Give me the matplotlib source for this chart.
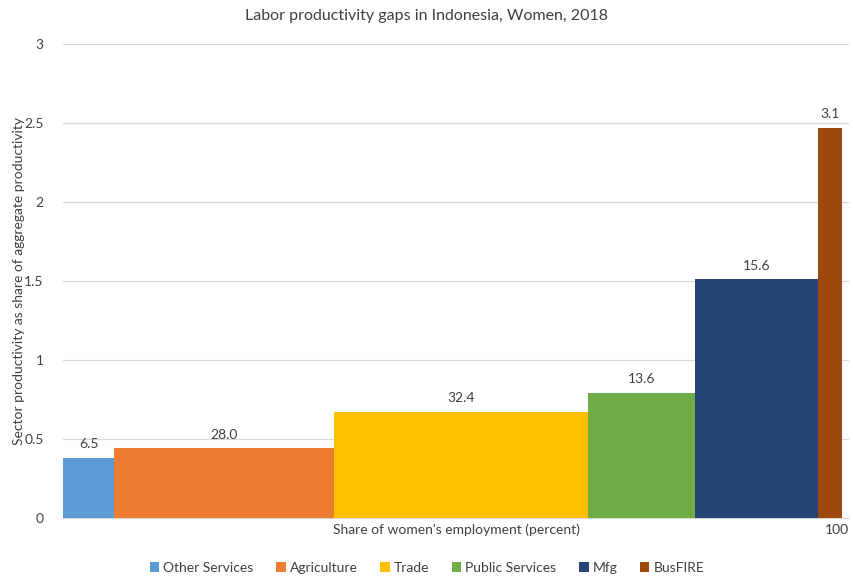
import matplotlib.pyplot as plt
import numpy as np

sectors = ["Other Services", "Agriculture", "Trade", "Public Services", "Mfg", "BusFIRE"]
shares = [6.5, 28.0, 32.4, 13.6, 15.6, 3.1]
productivity = [0.38, 0.44, 0.67, 0.79, 1.51, 2.47]
colors = ["#5B9BD5", "#ED7D31", "#FFC000", "#70AD47", "#264478", "#9E480E"]
yticks = [0, 0.5, 1, 1.5, 2, 2.5, 3]
yticklabels = ["0", "0.5", "1", "1.5", "2", "2.5", "3"]

plt.rcParams["font.family"] = ["Lato", "DejaVu Sans"]

fig = plt.figure(figsize=(8.54, 5.77), dpi=100)
ax = fig.add_axes([0.0738, 0.1023, 0.9204, 0.8214])

# bars are as wide as each sector's employment share, laid end to end
left = np.concatenate([[0], np.cumsum(shares)[:-1]])
for name, x0, w, h, c in zip(sectors, left, shares, productivity, colors):
    ax.bar(x0, h, width=w, align="edge", color=c, label=name, zorder=3)
    ax.text(x0 + w / 2, h + 0.05, "{:.1f}".format(w), ha="center", va="bottom",
            fontsize=10, color="#404040", zorder=4)

ax.set_xlim(0, 100.1)
ax.set_ylim(0, 3)
ax.set_yticks(yticks)
ax.set_yticklabels(yticklabels)
ax.set_xticks([])
ax.tick_params(axis="y", length=0, pad=14, labelsize=10, labelcolor="#404040")
ax.grid(axis="y", color="#D9D9D9", linewidth=0.9, zorder=0)
for s in ["top", "right", "left"]:
    ax.spines[s].set_visible(False)
ax.spines["bottom"].set_color("#D9D9D9")

ax.text(0.5, -0.012, "Share of women's employment (percent)", transform=ax.transAxes,
        ha="center", va="top", fontsize=10, color="#404040")
ax.text(0.984, -0.012, "100", transform=ax.transAxes, ha="center", va="top",
        fontsize=10, color="#404040")
ax.set_ylabel("Sector productivity as share of aggregate productivity", fontsize=10,
              color="#404040")
ax.yaxis.set_label_coords(-0.049, 0.5)
fig.text(0.5, 0.972, "Labor productivity gaps in Indonesia, Women, 2018", ha="center",
         va="center", fontsize=11.5, color="#404040")

fig.legend(loc="center", bbox_to_anchor=(0.5, 0.016), ncol=6, frameon=False,
           fontsize=10, handlelength=0.7, handleheight=0.7, handletextpad=0.3,
           columnspacing=1.6, labelcolor="#404040")

fig.savefig("out.png", dpi=100)
